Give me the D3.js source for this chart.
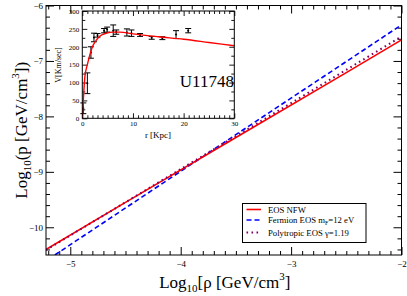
<!DOCTYPE html>
<html><head><meta charset="utf-8">
<script src="https://cdn.jsdelivr.net/npm/d3@7"></script>
<style>
body{margin:0;background:#fff}
svg{display:block}
text{font-family:"Liberation Serif","Times New Roman",serif;fill:#000}
</style>
</head><body>
<svg id="chart" width="407" height="296"></svg>
<script>
// ---------- main panel data (log10 rho vs log10 p) ----------
const nfwLogRho = [-5.22, -4.5, -3.5, -2.5, -2.0];
const nfwLogP   = [-10.40, -9.55, -8.38, -7.21, -6.62];
const fermionLogRho = [-5.14, -4.0, -3.0, -2.0];
const fermionLogP   = [-10.50, -8.99, -7.67, -6.35];
const polyLogRho = [-5.22, -4.0, -3.0, -2.0];
const polyLogP   = [-10.41, -8.95, -7.76, -6.56];
const xMajorTicks = [-5, -4, -3, -2];
const yMajorTicks = [-10, -9, -8, -7, -6];

// ---------- inset data (rotation curve U11748) ----------
const obsR   = [0.2, 1.0, 1.7, 2.3, 3.0, 4.3, 4.9, 6.1, 6.7, 8.8, 9.7, 11.4, 13.7, 15.8, 18.5, 20.9];
const obsV   = [28, 98, 184, 226, 232, 245, 248, 245, 241, 240, 238, 233, 225, 224, 234, 245];
const obsErr = [15, 29, 16, 12, 5, 6, 7, 16, 6, 10, 9, 4, 4, 4, 11, 6];
const fitR = [0, 0.2, 0.5, 1, 1.5, 2, 2.8, 3.5, 4.8, 6, 7.4, 10, 15, 20, 25, 30];
const fitV = [0, 50, 115, 150, 178, 200, 219, 230, 238, 241, 241, 236, 228, 221, 212, 203];
const insetXMajor = [0, 10, 20, 30];
const insetYMajor = [0, 50, 100, 150, 200, 250, 300];

const legendLabels = ["EOS NFW", "Fermion EOS m", "Polytropic EOS \u03b3=1.19"];

const svg = d3.select("#chart");

// ---------- main scales ----------
const L = 46, R = 401.5, T = 5.5, B = 255;
const x = d3.scaleLinear().domain([-5.22, -2]).range([L, R]);
const y = d3.scaleLinear().domain([-10.5, -6]).range([B, T]);

const xMinor = d3.range(-5.2, -1.99, 0.1).map(v => +v.toFixed(2)).filter(v => !xMajorTicks.includes(v));
const yMinor = d3.range(-10.4, -5.99, 0.2).map(v => +v.toFixed(2)).filter(v => !yMajorTicks.includes(v));

function styleAxis(g) {
  g.select(".domain").remove();
  g.selectAll(".tick line").attr("stroke", "#000").attr("stroke-width", 1);
  g.selectAll(".tick text").style("font-size", "9px").style("font-family", '"Liberation Serif",serif');
}

// bottom
svg.append("g").attr("transform", `translate(0,${B})`)
  .call(d3.axisBottom(x).tickValues(xMajorTicks).tickSize(-8).tickPadding(6).tickFormat(d3.format("d")))
  .call(styleAxis);
svg.append("g").attr("transform", `translate(0,${B})`)
  .call(d3.axisBottom(x).tickValues(xMinor).tickSize(-4).tickFormat(""))
  .call(styleAxis);
// top
svg.append("g").attr("transform", `translate(0,${T})`)
  .call(d3.axisTop(x).tickValues(xMajorTicks).tickSize(-8).tickFormat(""))
  .call(styleAxis);
svg.append("g").attr("transform", `translate(0,${T})`)
  .call(d3.axisTop(x).tickValues(xMinor).tickSize(-4).tickFormat(""))
  .call(styleAxis);
// left
svg.append("g").attr("transform", `translate(${L},0)`)
  .call(d3.axisLeft(y).tickValues(yMajorTicks).tickSize(-8).tickPadding(3).tickFormat(d3.format("d")))
  .call(styleAxis);
svg.append("g").attr("transform", `translate(${L},0)`)
  .call(d3.axisLeft(y).tickValues(yMinor).tickSize(-4).tickFormat(""))
  .call(styleAxis);
// right
svg.append("g").attr("transform", `translate(${R},0)`)
  .call(d3.axisRight(y).tickValues(yMajorTicks).tickSize(-8).tickFormat(""))
  .call(styleAxis);
svg.append("g").attr("transform", `translate(${R},0)`)
  .call(d3.axisRight(y).tickValues(yMinor).tickSize(-4).tickFormat(""))
  .call(styleAxis);

svg.append("defs").append("clipPath").attr("id", "mainclip")
  .append("rect").attr("x", L).attr("y", T).attr("width", R - L).attr("height", B - T);

const line = d3.line().x(d => x(d[0])).y(d => y(d[1]));
const plot = svg.append("g").attr("clip-path", "url(#mainclip)");
plot.append("path").datum(fermionLogRho.map((v, i) => [v, fermionLogP[i]]))
  .attr("d", line).attr("fill", "none").attr("stroke", "#0000ff").attr("stroke-width", 1.6)
  .attr("stroke-dasharray", "5,3");
plot.append("path").datum(nfwLogRho.map((v, i) => [v, nfwLogP[i]]))
  .attr("d", line).attr("fill", "none").attr("stroke", "#ff0000").attr("stroke-width", 1.6);
plot.append("path").datum(polyLogRho.map((v, i) => [v, polyLogP[i]]))
  .attr("d", line).attr("fill", "none").attr("stroke", "#800060").attr("stroke-width", 2)
  .attr("stroke-dasharray", "1.6,3.4");

svg.append("rect").attr("x", L).attr("y", T).attr("width", R - L).attr("height", B - T)
  .attr("fill", "none").attr("stroke", "#000").attr("stroke-width", 1);

// axis titles
const xt = svg.append("text").attr("x", (L + R) / 2 + 1).attr("y", 288)
  .attr("text-anchor", "middle").style("font-size", "17px");
xt.append("tspan").text("Log");
xt.append("tspan").attr("dy", 4).style("font-size", "11px").text("10");
xt.append("tspan").attr("dy", -4).text("[\u03c1 [GeV/cm");
xt.append("tspan").attr("dy", -8).style("font-size", "11px").text("3");
xt.append("tspan").attr("dy", 8).text("]");

const yt = svg.append("text").attr("transform", `translate(27,${(T + B) / 2}) rotate(-90)`)
  .attr("text-anchor", "middle").style("font-size", "17px");
yt.append("tspan").text("Log");
yt.append("tspan").attr("dy", 4).style("font-size", "11px").text("10");
yt.append("tspan").attr("dy", -4).text("(p [GeV/cm");
yt.append("tspan").attr("dy", -8).style("font-size", "11px").text("3");
yt.append("tspan").attr("dy", 8).text("])");

// ---------- legend ----------
const lg = svg.append("g");
lg.append("rect").attr("x", 242.5).attr("y", 203.5).attr("width", 123.5).attr("height", 39)
  .attr("fill", "#fff").attr("stroke", "#000").attr("stroke-width", 1);
const legY = [209.5, 220, 232.5];
const legStyles = [
  {stroke: "#ff0000", dash: null, w: 1.6},
  {stroke: "#0000ff", dash: "5,3", w: 1.6},
  {stroke: "#800060", dash: "1.6,3.4", w: 2}
];
legY.forEach((ly, i) => {
  lg.append("line").attr("x1", 246.5).attr("x2", 261).attr("y1", ly).attr("y2", ly)
    .attr("stroke", legStyles[i].stroke).attr("stroke-width", legStyles[i].w)
    .attr("stroke-dasharray", legStyles[i].dash);
  const t = lg.append("text").attr("x", 268).attr("y", ly + 3).style("font-size", "8.7px");
  t.append("tspan").text(legendLabels[i]);
  if (i === 1) {
    t.append("tspan").attr("dy", 2).style("font-size", "6px").text("F");
    t.append("tspan").attr("dy", -2).text("=12 eV");
  }
});

// ---------- inset ----------
const iL = 82.3, iR = 234.3, iT = 11, iB = 118.3;
const ix = d3.scaleLinear().domain([0, 30]).range([iL, iR]);
const iy = d3.scaleLinear().domain([0, 300]).range([iB, iT]);
const ins = svg.append("g");
ins.append("rect").attr("x", iL).attr("y", iT).attr("width", iR - iL).attr("height", iB - iT)
  .attr("fill", "#fff");
const ixMinor = d3.range(1, 30, 1).filter(v => v % 10 !== 0);
const iyMinor = d3.range(25, 300, 50);
function styleInset(g) {
  g.select(".domain").remove();
  g.selectAll(".tick line").attr("stroke", "#000").attr("stroke-width", 0.9);
  g.selectAll(".tick text").style("font-size", "7px").style("font-family", '"Liberation Serif",serif');
}
ins.append("g").attr("transform", `translate(0,${iB})`)
  .call(d3.axisBottom(ix).tickValues(insetXMajor).tickSize(-5).tickPadding(3).tickFormat(d3.format("d"))).call(styleInset);
ins.append("g").attr("transform", `translate(0,${iB})`)
  .call(d3.axisBottom(ix).tickValues(ixMinor).tickSize(-3).tickFormat("")).call(styleInset);
ins.append("g").attr("transform", `translate(0,${iT})`)
  .call(d3.axisTop(ix).tickValues(insetXMajor).tickSize(-5).tickFormat("")).call(styleInset);
ins.append("g").attr("transform", `translate(0,${iT})`)
  .call(d3.axisTop(ix).tickValues(ixMinor).tickSize(-3).tickFormat("")).call(styleInset);
ins.append("g").attr("transform", `translate(${iL},0)`)
  .call(d3.axisLeft(iy).tickValues(insetYMajor).tickSize(-5).tickPadding(3).tickFormat(d3.format("d"))).call(styleInset);
ins.append("g").attr("transform", `translate(${iL},0)`)
  .call(d3.axisLeft(iy).tickValues(iyMinor).tickSize(-3).tickFormat("")).call(styleInset);
ins.append("g").attr("transform", `translate(${iR},0)`)
  .call(d3.axisRight(iy).tickValues(insetYMajor).tickSize(-5).tickFormat("")).call(styleInset);
ins.append("g").attr("transform", `translate(${iR},0)`)
  .call(d3.axisRight(iy).tickValues(iyMinor).tickSize(-3).tickFormat("")).call(styleInset);

svg.append("defs").append("clipPath").attr("id", "insclip")
  .append("rect").attr("x", iL).attr("y", iT).attr("width", iR - iL).attr("height", iB - iT);

const obs = obsR.map((r, i) => ({r, v: obsV[i], e: obsErr[i]}));
const eb = ins.append("g").attr("stroke", "#000").attr("stroke-width", 1);
obs.forEach(d => {
  const cx = ix(d.r);
  eb.append("line").attr("x1", cx).attr("x2", cx).attr("y1", iy(d.v - d.e)).attr("y2", iy(d.v + d.e));
  eb.append("line").attr("x1", cx - 3).attr("x2", cx + 3).attr("y1", iy(d.v - d.e)).attr("y2", iy(d.v - d.e));
  eb.append("line").attr("x1", cx - 3).attr("x2", cx + 3).attr("y1", iy(d.v + d.e)).attr("y2", iy(d.v + d.e));
});
ins.append("g").selectAll("circle").data(obs).join("circle")
  .attr("cx", d => ix(d.r)).attr("cy", d => iy(d.v)).attr("r", 1).attr("fill", "#000");

const iline = d3.line().curve(d3.curveMonotoneX).x(d => ix(d[0])).y(d => iy(d[1]));
ins.append("path").attr("clip-path", "url(#insclip)")
  .datum(fitR.map((r, i) => [r, fitV[i]]))
  .attr("d", iline).attr("fill", "none").attr("stroke", "#ff0000").attr("stroke-width", 1.4);

ins.append("rect").attr("x", iL).attr("y", iT).attr("width", iR - iL).attr("height", iB - iT)
  .attr("fill", "none").attr("stroke", "#000").attr("stroke-width", 1);

ins.append("text").attr("x", 234).attr("y", 87).attr("text-anchor", "end")
  .style("font-size", "17px").text("U11748");
ins.append("text").attr("x", 158).attr("y", 138).attr("text-anchor", "middle")
  .style("font-size", "9px").text("r [Kpc]");
ins.append("text").attr("transform", "translate(61,65) rotate(-90)").attr("text-anchor", "middle")
  .style("font-size", "8px").text("V[Km/sec]");
</script>
</body></html>
